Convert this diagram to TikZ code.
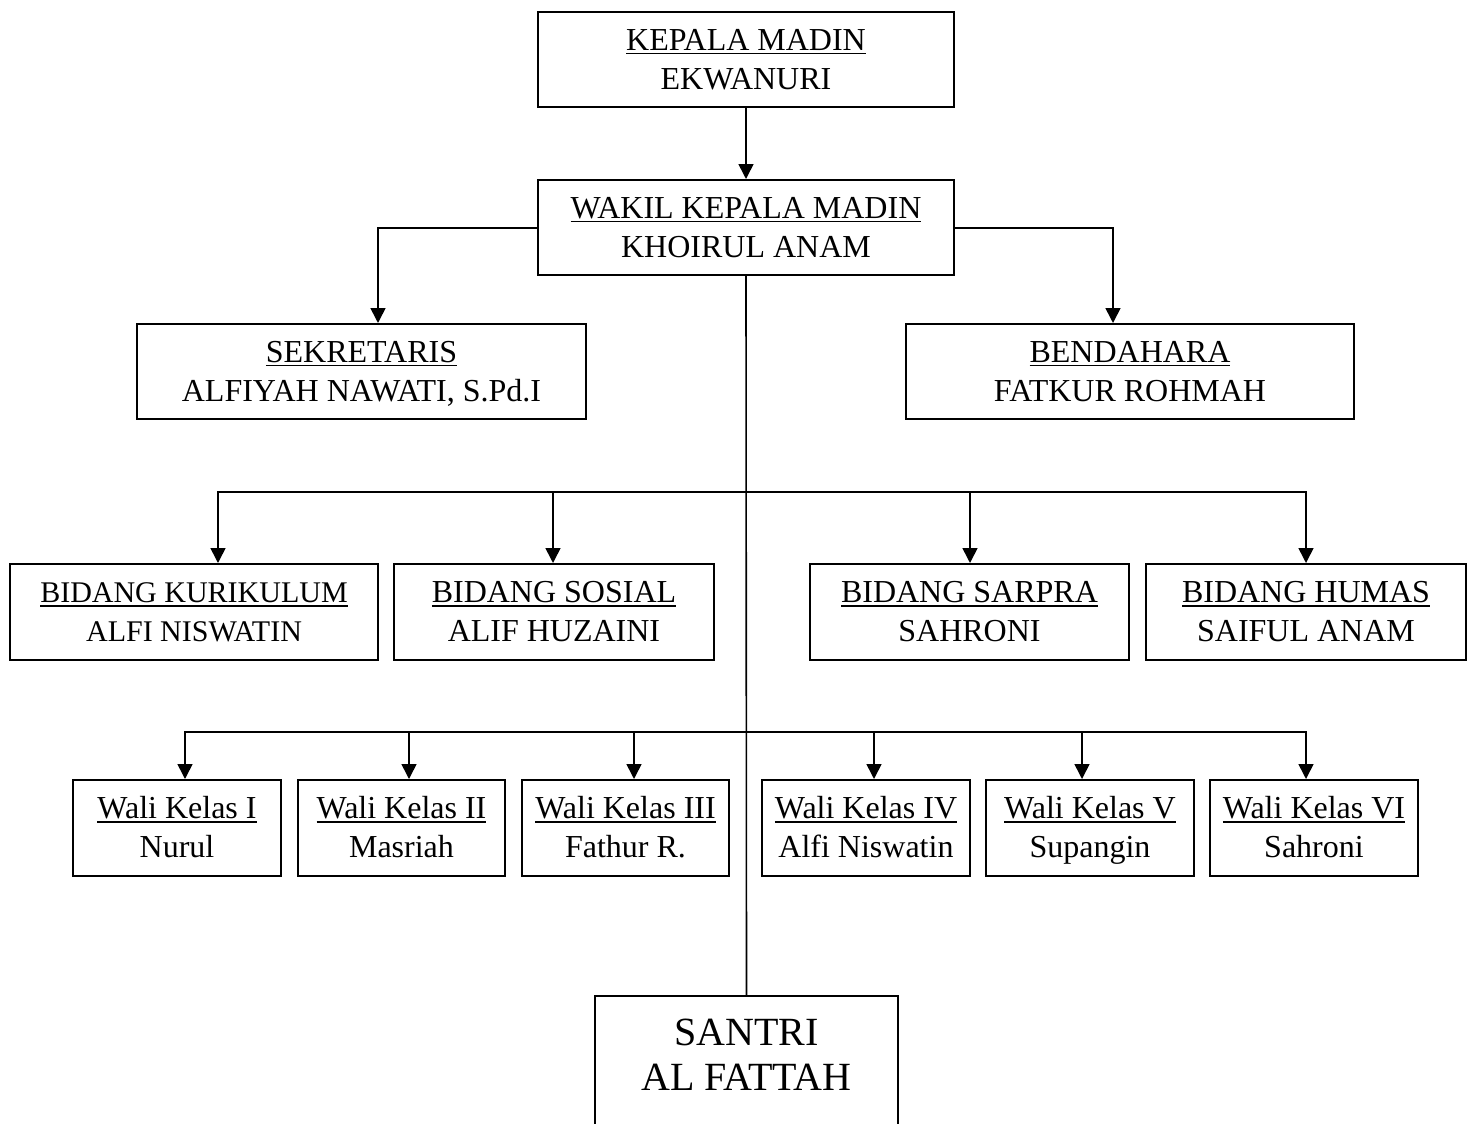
\documentclass[tikz,border=0pt]{standalone}
\usepackage{fontspec}
\setmainfont{Liberation Serif}
\usetikzlibrary{arrows.meta}
\newcommand\uln[1]{\setbox0\hbox{#1}\rlap{\rule[-4pt]{\wd0}{1.4pt}}\box0}
\begin{document}
\begin{tikzpicture}[x=1pt,y=-1pt,
  box/.style={draw,line width=2pt,inner sep=0pt,align=center,font=\fontsize{32}{39}\selectfont,text height=60pt,text depth=1pt},
  conn/.style={line width=1.6pt},
  arr/.style={line width=1.6pt,-{Triangle[width=15pt,length=15pt]}}]
\useasboundingbox (0,0) rectangle (1473,1124);
% top
\node[box,minimum width=416pt,minimum height=95pt] (kep) at (746,59.5) {\uln{KEPALA MADIN}\\EKWANURI};
\node[box,minimum width=416pt,minimum height=95pt] (wak) at (746,227.5) {\uln{WAKIL KEPALA MADIN}\\KHOIRUL ANAM};
\node[box,minimum width=449pt,minimum height=95pt] (sek) at (361.5,371.5) {\uln{SEKRETARIS}\\ALFIYAH NAWATI, S.Pd.I};
\node[box,minimum width=448pt,minimum height=95pt] (ben) at (1130,371.5) {\uln{BENDAHARA}\\FATKUR ROHMAH};
% bidang
\node[box,minimum width=368pt,minimum height=96pt,font=\fontsize{30}{39}\selectfont] (kur) at (194,612) {\uln{BIDANG KURIKULUM}\\ALFI NISWATIN};
\node[box,minimum width=320pt,minimum height=96pt] (sos) at (554,612) {\uln{BIDANG SOSIAL}\\ALIF HUZAINI};
\node[box,minimum width=319pt,minimum height=96pt] (sar) at (969.5,612) {\uln{BIDANG SARPRA}\\SAHRONI};
\node[box,minimum width=320pt,minimum height=96pt] (hum) at (1306,612) {\uln{BIDANG HUMAS}\\SAIFUL ANAM};
% wali kelas
\node[box,minimum width=208pt,minimum height=96pt] (w1) at (177,828) {\uln{Wali Kelas I}\\Nurul};
\node[box,minimum width=207pt,minimum height=96pt] (w2) at (401.5,828) {\uln{Wali Kelas II}\\Masriah};
\node[box,minimum width=207pt,minimum height=96pt] (w3) at (625.5,828) {\uln{Wali Kelas III}\\Fathur R.};
\node[box,minimum width=208pt,minimum height=96pt] (w4) at (866,828) {\uln{Wali Kelas IV}\\Alfi Niswatin};
\node[box,minimum width=208pt,minimum height=96pt] (w5) at (1090,828) {\uln{Wali Kelas V}\\Supangin};
\node[box,minimum width=208pt,minimum height=96pt] (w6) at (1314,828) {\uln{Wali Kelas VI}\\Sahroni};
% santri
\node[box,minimum width=303pt,minimum height=134pt,font=\fontsize{40}{45}\selectfont,text height=72pt,text depth=18pt] (san) at (746.5,1063) {SANTRI\\AL FATTAH};
% connectors
\draw[arr] (kep.south) -- (wak.north);
\coordinate (wl) at (378,228);
\coordinate (wr) at (1113,228);
\draw[arr] (wak.west |- wl) -- (wl) -- (wl |- sek.north);
\draw[arr] (wak.east |- wr) -- (wr) -- (wr |- ben.north);
\draw[conn] (wak.south) -- (san.north);
% bidang bus
\coordinate (b1) at (218,492);
\coordinate (b2) at (553,492);
\coordinate (b3) at (970,492);
\coordinate (b4) at (1306,492);
\draw[arr] (b4) -- (b1) -- (b1 |- kur.north);
\draw[arr] (b1) -- (b4) -- (b4 |- hum.north);
\draw[arr] (b2) -- (b2 |- sos.north);
\draw[arr] (b3) -- (b3 |- sar.north);
% wali bus
\coordinate (c1) at (185,732);
\coordinate (c2) at (409,732);
\coordinate (c3) at (634,732);
\coordinate (c4) at (874,732);
\coordinate (c5) at (1082,732);
\coordinate (c6) at (1306,732);
\draw[arr] (c6) -- (c1) -- (c1 |- w1.north);
\draw[arr] (c1) -- (c6) -- (c6 |- w6.north);
\draw[arr] (c2) -- (c2 |- w2.north);
\draw[arr] (c3) -- (c3 |- w3.north);
\draw[arr] (c4) -- (c4 |- w4.north);
\draw[arr] (c5) -- (c5 |- w5.north);
\end{tikzpicture}
\end{document}
